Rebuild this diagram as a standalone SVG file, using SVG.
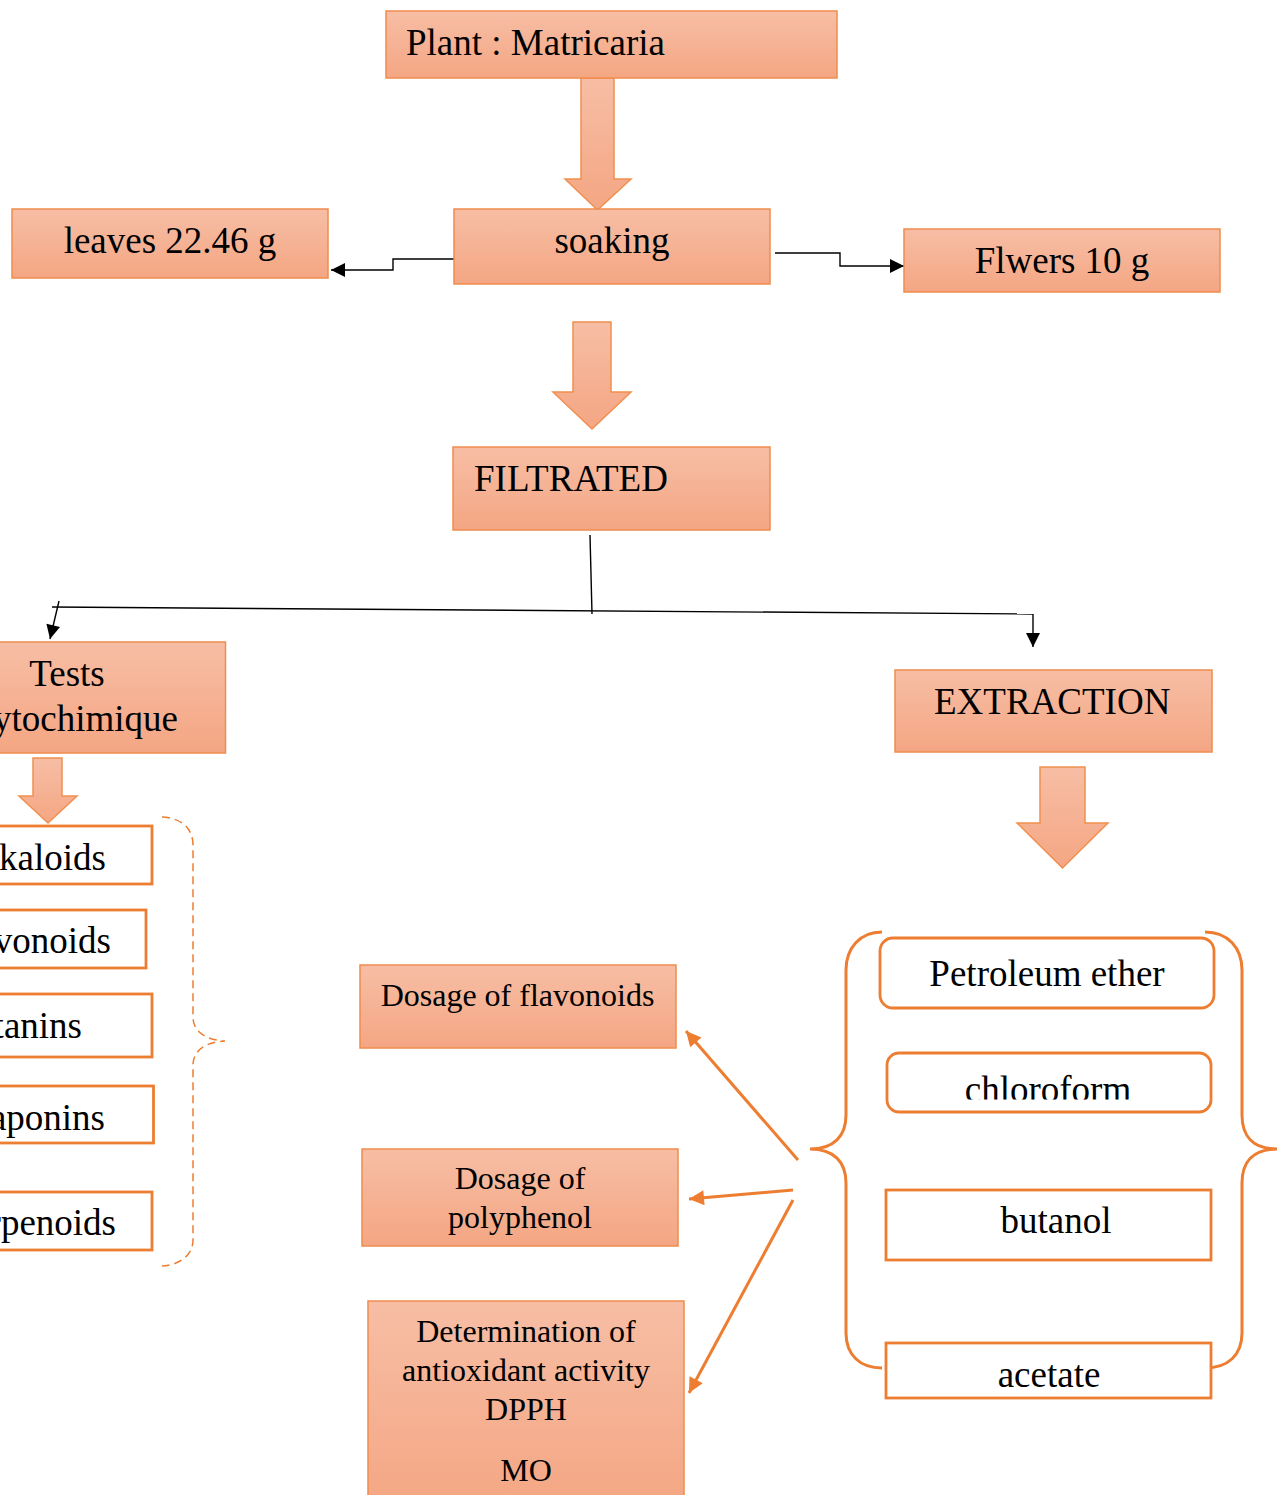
<svg xmlns="http://www.w3.org/2000/svg" width="1281" height="1495" viewBox="0 0 1281 1495">
<style>
.box{fill:url(#g);stroke:#F08C4E;stroke-width:1.5}
.wbox{fill:#fff;stroke:#ED7D31;stroke-width:2.8}
.barrow{fill:url(#g);stroke:#F0904F;stroke-width:1.5}
.t{font-family:"Liberation Serif","Times New Roman",serif;font-size:37px;fill:#000}
.s{font-family:"Liberation Serif","Times New Roman",serif;font-size:32px;fill:#000}
.c{text-anchor:middle}
.e{text-anchor:end}
.line{fill:none;stroke:#000;stroke-width:1.4}
.oline{fill:none;stroke:#ED7D31;stroke-width:3}
.brace{fill:none;stroke:#ED7D31;stroke-width:3}
.dbrace{fill:none;stroke:#ED7D31;stroke-width:1.5;stroke-dasharray:8 5}
</style>
<defs>
<linearGradient id="g" x1="0" y1="0" x2="0" y2="1">
<stop offset="0" stop-color="#F7BEA5"/>
<stop offset="1" stop-color="#F4A683"/>
</linearGradient>
<marker id="ab" viewBox="0 0 10 10" refX="10" refY="5" markerUnits="userSpaceOnUse" markerWidth="15" markerHeight="14" orient="auto">
<path d="M0,0 L10,5 L0,10 z" fill="#000"/>
</marker>
<marker id="ao" viewBox="0 0 10 10" refX="10" refY="5" markerUnits="userSpaceOnUse" markerWidth="17" markerHeight="15" orient="auto">
<path d="M0,0 L10,5 L0,10 z" fill="#ED7D31"/>
</marker>
<clipPath id="cl"><rect x="880" y="1050" width="340" height="49.5"/></clipPath>
</defs>

<g id="connectors">
<polygon class="barrow" points="581,78 614,78 614,179 631,179 597.5,210 565,179 581,179"/>
<polygon class="barrow" points="573,322 611,322 611,392 631,392 592,429 553,392 573,392"/>
<polygon class="barrow" points="33,758 62,758 62,796 77,796 48,823 19,796 33,796"/>
<polygon class="barrow" points="1040,767 1085,767 1085,823 1108,823 1062.5,868 1017,823 1040,823"/>
<path class="line" d="M454,259 L393,259 L393,270 L331,270" marker-end="url(#ab)"/>
<path class="line" d="M775,253 L840,253 L840,266 L904,266" marker-end="url(#ab)"/>
<path class="line" d="M590,535 L592,614"/>
<path class="line" d="M52,607 L1033,614"/>
<path class="line" d="M1033,614 L1033,647" marker-end="url(#ab)"/>
<path class="line" d="M59,601 L50,639" marker-end="url(#ab)"/>
<path class="oline" d="M798,1160 L686,1031" marker-end="url(#ao)"/>
<path class="oline" d="M793,1190 L689,1199" marker-end="url(#ao)"/>
<path class="oline" d="M793,1200 L689,1393" marker-end="url(#ao)"/>
<path class="dbrace" d="M162,817 C181,818 193,828 193,845 L193,1017 C193,1031 205,1040 225,1041 C205,1042 193,1051 193,1065 L193,1240 C193,1255 180,1265 162,1266"/>
<path class="brace" d="M882,932 C860,932 846,948 846,970 L846,1115 C846,1136 834,1149 810,1149 C834,1149 846,1162 846,1183 L846,1333 C846,1355 860,1368 882,1368"/>
<path class="brace" d="M1205,932 C1228,932 1242,948 1242,970 L1242,1115 C1242,1136 1253,1149 1277,1149 C1253,1149 1242,1162 1242,1183 L1242,1333 C1242,1355 1228,1368 1205,1368"/>
</g>

<g id="plant"><rect class="box" x="386" y="11" width="451" height="67"/><text class="t" x="406" y="55">Plant : Matricaria</text></g>
<g id="soaking"><rect class="box" x="454" y="209" width="316" height="75"/><text class="t c" x="612" y="253">soaking</text></g>
<g id="leaves"><rect class="box" x="12" y="209" width="316" height="69"/><text class="t c" x="170" y="253">leaves 22.46 g</text></g>
<g id="flowers"><rect class="box" x="904" y="229" width="316" height="63"/><text class="t c" x="1062" y="273">Flwers 10 g</text></g>
<g id="filtrated"><rect class="box" x="453" y="447" width="317" height="83"/><text class="t" x="474" y="491">FILTRATED</text></g>
<g id="tests"><rect class="box" x="-2" y="642" width="227.5" height="111"/><text class="t c" x="67" y="686">Tests</text><text class="t e" x="178" y="731">ytochimique</text></g>
<g id="alkaloids"><rect class="wbox" x="-5" y="826" width="157" height="58"/><text class="t e" x="106" y="870">kaloids</text></g>
<g id="flavonoids"><rect class="wbox" x="-5" y="910" width="151" height="58"/><text class="t e" x="111" y="953">vonoids</text></g>
<g id="tanins"><rect class="wbox" x="-5" y="994" width="157" height="63"/><text class="t e" x="82" y="1038">tanins</text></g>
<g id="saponins"><rect class="wbox" x="-5" y="1086" width="158.5" height="57"/><text class="t e" x="105" y="1130">aponins</text></g>
<g id="terpenoids"><rect class="wbox" x="-5" y="1192" width="157" height="58"/><text class="t e" x="116" y="1235">rpenoids</text></g>
<g id="extraction"><rect class="box" x="895" y="670" width="317" height="82"/><text class="t" x="934" y="714">EXTRACTION</text></g>
<g id="petroleum"><rect class="wbox" x="880" y="938" width="334" height="70" rx="13"/><text class="t c" x="1047" y="986">Petroleum ether</text></g>
<g id="chloroform"><rect class="wbox" x="887" y="1053" width="324" height="59" rx="12"/><text class="t c" x="1048" y="1102" clip-path="url(#cl)">chloroform</text></g>
<g id="butanol"><rect class="wbox" x="886" y="1190" width="325" height="70"/><text class="t c" x="1056" y="1233">butanol</text></g>
<g id="acetate"><rect class="wbox" x="886" y="1343" width="325" height="55"/><text class="t c" x="1049" y="1387">acetate</text></g>
<g id="dosage-flavonoids"><rect class="box" x="360" y="965" width="316" height="83"/><text class="s c" x="517.5" y="1006">Dosage of flavonoids</text></g>
<g id="dosage-polyphenol"><rect class="box" x="362" y="1149" width="316" height="97"/><text class="s c" x="520" y="1189">Dosage of</text><text class="s c" x="520" y="1228">polyphenol</text></g>
<g id="antioxidant"><rect class="box" x="368" y="1301" width="316" height="210"/><text class="s c" x="526" y="1342">Determination of</text><text class="s c" x="526" y="1381">antioxidant activity</text><text class="s c" x="526" y="1420">DPPH</text><text class="s c" x="526" y="1481">MO</text></g>
</svg>
